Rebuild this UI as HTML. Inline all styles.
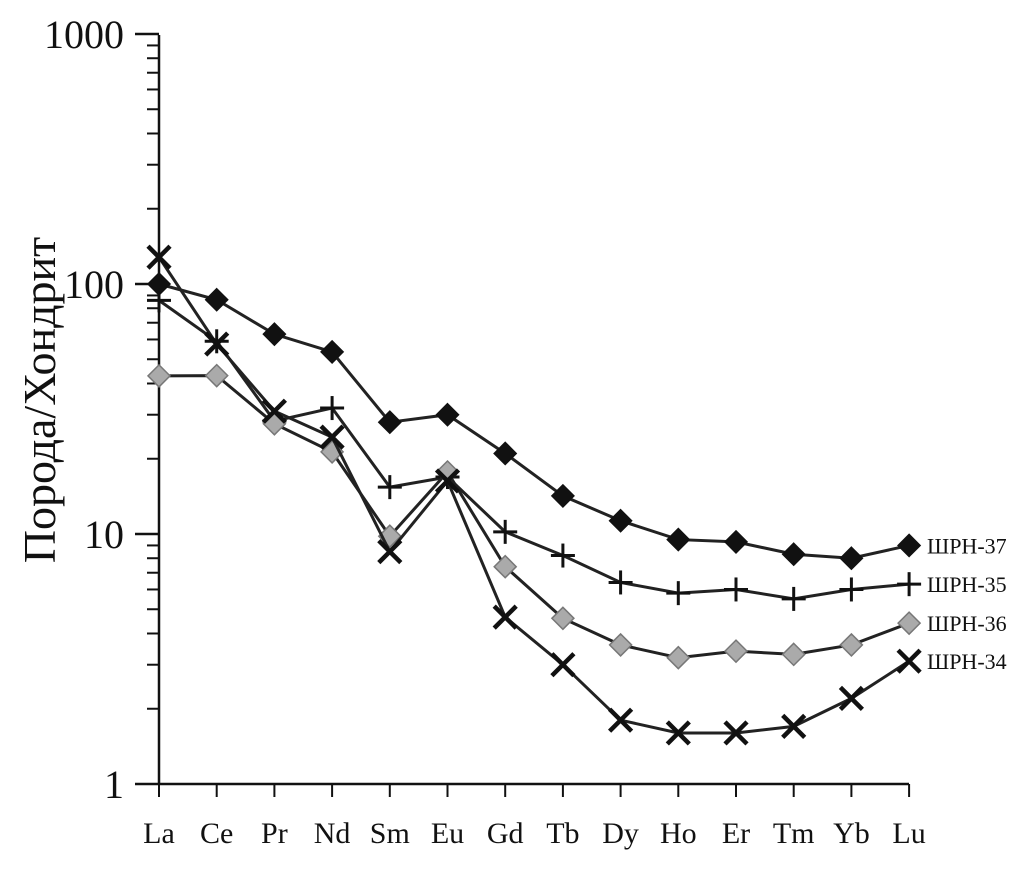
<!DOCTYPE html>
<html><head><meta charset="utf-8"><style>
body{margin:0;background:#fff}
svg text{font-family:"Liberation Serif",serif;fill:#111}
</style></head><body>
<svg id="c" width="1036" height="876"></svg>
<script>
const categories=["La","Ce","Pr","Nd","Sm","Eu","Gd","Tb","Dy","Ho","Er","Tm","Yb","Lu"];
const s37=[100,86.5,63,53.5,28,30,21,14.2,11.3,9.5,9.3,8.3,8.0,9.0];
const s35=[86,59,28.3,31.9,15.4,16.9,10.2,8.2,6.4,5.8,6.0,5.5,6.0,6.3];
const s36=[42.9,43,27.6,21.3,9.8,17.7,7.4,4.6,3.6,3.2,3.4,3.3,3.6,4.4];
const s34=[128,57.5,31,24.4,8.5,16.3,4.65,3.0,1.8,1.6,1.6,1.7,2.2,3.1];
const yTicks=[1,10,100,1000];
const seriesNames=["ШРН-37","ШРН-35","ШРН-36","ШРН-34"];
const NS="http://www.w3.org/2000/svg";
const svg=document.getElementById('c');
const x=i=>159+i*57.7;
const y=v=>784-250*Math.log10(v);
function el(t,a,p){const e=document.createElementNS(NS,t);for(const k in a)e.setAttribute(k,a[k]);(p||svg).appendChild(e);return e;}
let a=el('line',{x1:159,y1:35,x2:159,y2:784,stroke:'#111','stroke-width':2.5});


a=el('line',{x1:159,y1:784,x2:909,y2:784,stroke:'#111','stroke-width':2.5});


for(let d=0;d<3;d++){for(let m=2;m<=9;m++){const v=Math.pow(10,d)*m;
 const t=el('line',{x1:147,y1:y(v),x2:159,y2:y(v),stroke:'#111','stroke-width':2});
 
 }}
yTicks.forEach(v=>{
 const t=el('line',{x1:135,y1:y(v),x2:159,y2:y(v),stroke:'#111','stroke-width':2.5});
 
 
 const l=el('text',{x:124,y:y(v)+14,'text-anchor':'end','font-size':40});l.textContent=v;
 
 
});
categories.forEach((c,i)=>{
 const t=el('line',{x1:x(i),y1:784,x2:x(i),y2:797,stroke:'#111','stroke-width':2});
 
 
 const l=el('text',{x:x(i),y:843,'text-anchor':'middle','font-size':30});l.textContent=c;
 
 
});
const yt=el('text',{x:0,y:0,transform:'translate(55,400) rotate(-90)','text-anchor':'middle','font-size':46});
yt.textContent='Порода/Хондрит';


function marker(type,cx,cy,g){
 if(type==='d'||type==='g'){const r=11;return el('polygon',{points:`${cx},${cy-r} ${cx+r},${cy} ${cx},${cy+r} ${cx-r},${cy}`,fill:type==='d'?'#111':'#aaa',stroke:type==='d'?'#111':'#777','stroke-width':1.5},g);}
 if(type==='p'){const gg=el('g',{},g);el('line',{x1:cx-12,y1:cy,x2:cx+12,y2:cy,stroke:'#111','stroke-width':3},gg);el('line',{x1:cx,y1:cy-12,x2:cx,y2:cy+12,stroke:'#111','stroke-width':3},gg);return gg;}
 const gg=el('g',{},g);el('line',{x1:cx-11,y1:cy-11,x2:cx+11,y2:cy+11,stroke:'#111','stroke-width':4.5},gg);el('line',{x1:cx-11,y1:cy+11,x2:cx+11,y2:cy-11,stroke:'#111','stroke-width':4.5},gg);return gg;
}
const all=[[s37,'d'],[s35,'p'],[s36,'g'],[s34,'x']];
all.forEach(([s,t],k)=>{
 const g=el('g',{});
 
 
 const ln=el('polyline',{points:s.map((v,i)=>x(i)+','+y(v)).join(' '),fill:'none',stroke:'#222','stroke-width':3},g);
 
 
 s.forEach((v,i)=>{const m=marker(t,x(i),y(v),g);
  
  });
 const l=el('text',{x:927,y:y(s[s.length-1])+8,'font-size':22},g);l.textContent=seriesNames[k];
 
 
});
</script>
</body></html>
